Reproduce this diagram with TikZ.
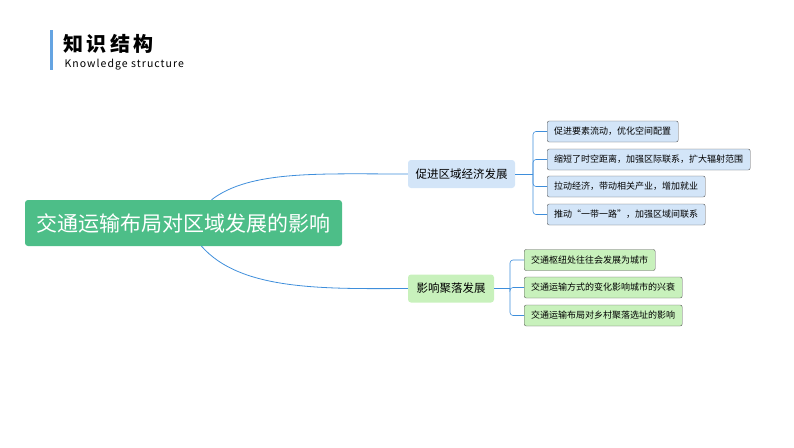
\documentclass[tikz,border=0pt]{standalone}
\usepackage{fontspec}
\setmainfont{Noto Sans CJK SC}
\usetikzlibrary{positioning}
\definecolor{rootgreen}{HTML}{4DBE88}
\definecolor{linkblue}{HTML}{3E8EDB}
\definecolor{bluefill}{HTML}{D3E5F8}
\definecolor{greenfill}{HTML}{C8F1BC}
\tikzset{ root/.style = { rectangle % central topic
        , rounded corners = 3pt
        , fill = rootgreen
        , text = white
        , font = \fontsize{21}{24}\selectfont
        , minimum width = 317pt
        , minimum height = 46pt
        }
        , bluebranch/.style = { rectangle % blue main branch
        , rounded corners = 3pt
        , fill = bluefill
        , font = \fontsize{11.5}{13}\selectfont
        , minimum height = 28pt
        , inner xsep = 7pt
        }
        , greenbranch/.style = { bluebranch % green main branch
        , fill = greenfill
        }
        , blueleaf/.style = { rectangle % blue sub topic
        , rounded corners = 2pt
        , draw = gray!70!black
        , fill = bluefill
        , font = \fontsize{9}{10}\selectfont
        , minimum height = 21pt
        , anchor = west
        , inner xsep = 7pt
        }
        , greenleaf/.style = { blueleaf % green sub topic
        , fill = greenfill
        }
        }
\begin{document}
\begin{tikzpicture}[x=1pt, y=-1pt,
        link/.style={draw=linkblue, thick},
        bracket/.style={draw=linkblue, semithick, rounded corners=3pt}]
        \useasboundingbox (0,0) rectangle (794,447);
        \fill [linkblue!80] (50,30) rectangle (53,70);
        \node [anchor=west, font=\fontsize{20}{22}\selectfont\bfseries] (title) at (60,44) {知\,识\,结\,构};
        \node [anchor=west, font=\fontsize{10.5}{12}\selectfont\addfontfeature{LetterSpace=10}] (subtitle) at (61,65) {Knowledge structure};

        \node [root] (r) at (183.5,223) {交通运输布局对区域发展的影响};
        \node [bluebranch, minimum width=107pt] (b1) at (461.5,174) {促进区域经济发展};
        \node [greenbranch, minimum width=86pt] (b2) at (451,288.5) {影响聚落发展};

        \node [blueleaf] (l1) at (547,131.5) {促进要素流动，优化空间配置};
        \node [blueleaf] (l2) at (547,159.5) {缩短了时空距离，加强区际联系，扩大辐射范围};
        \node [blueleaf] (l3) at (547,186.5) {拉动经济，带动相关产业，增加就业};
        \node [blueleaf] (l4) at (547,214.5) {推动“一带一路”，加强区域间联系};
        \node [greenleaf] (g1) at (524,260) {交通枢纽处往往会发展为城市};
        \node [greenleaf] (g2) at (524,287.5) {交通运输方式的变化影响城市的兴衰};
        \node [greenleaf] (g3) at (524,315.5) {交通运输布局对乡村聚落选址的影响};

        \draw [link] (r.north) ++(28,0) .. controls (250,170) and (320,174) .. (b1.west);
        \draw [link] (r.south) ++(18,0) .. controls (240,290) and (320,289) .. (b2.west);

        \coordinate (k1) at (533,174);
        \draw [bracket] (b1.east) -- (k1);
        \foreach \leaf in {l1,l2,l3,l4}
            \draw [bracket] (k1) |- (\leaf.west);
        \coordinate (k2) at (510,288.5);
        \draw [bracket] (b2.east) -- (k2);
        \foreach \leaf in {g1,g2,g3}
            \draw [bracket] (k2) |- (\leaf.west);
\end{tikzpicture}
\end{document}
